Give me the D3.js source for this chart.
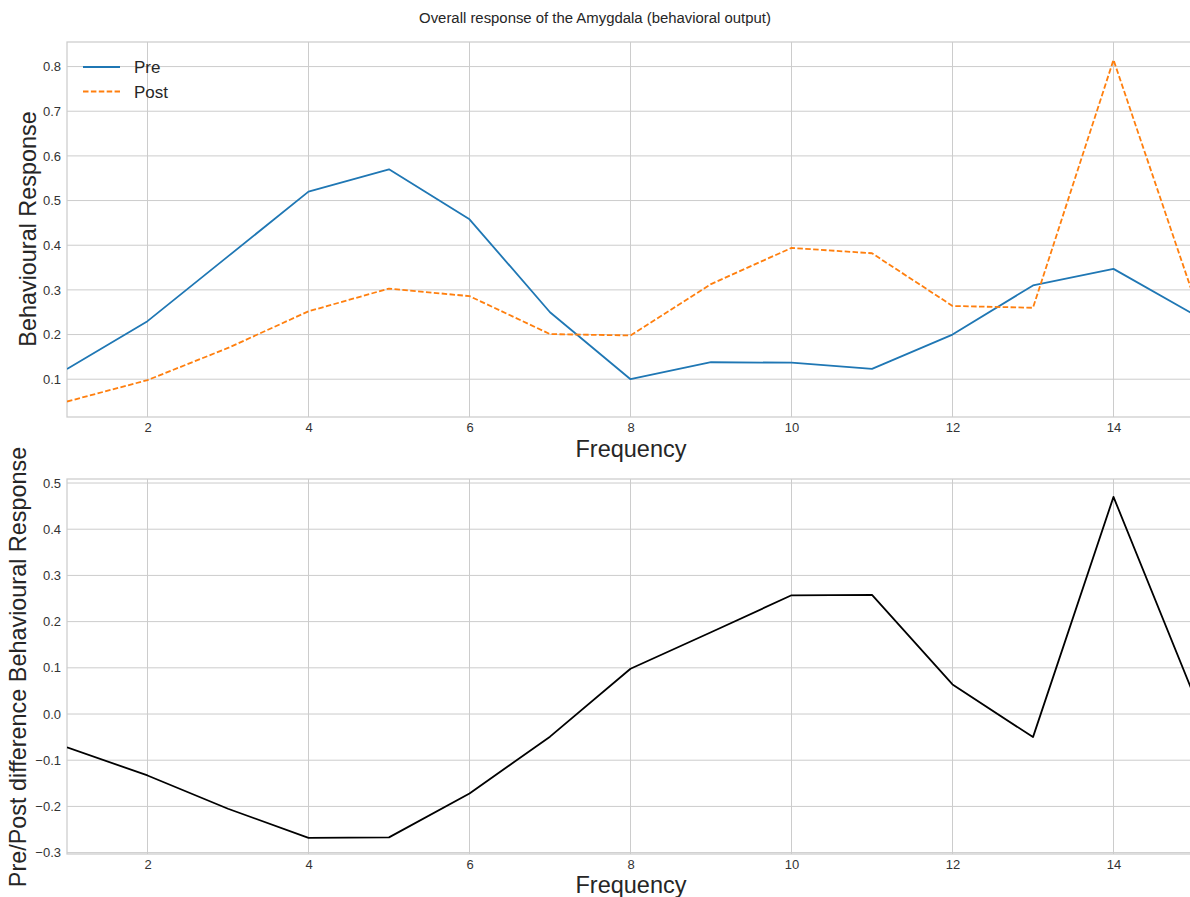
<!DOCTYPE html>
<html><head><meta charset="utf-8">
<script src="https://cdn.jsdelivr.net/npm/d3@7"></script>
<style>body{margin:0;background:#fff}svg{display:block}</style>
</head><body>
<svg id="c" width="1190" height="897"></svg>
<script>
const frequency = [1,2,3,4,5,6,7,8,9,10,11,12,13,14,15];
const preValues = [0.123,0.230,0.375,0.520,0.570,0.458,0.250,0.100,0.138,0.137,0.123,0.200,0.310,0.347,0.245];
const postValues = [0.050,0.098,0.170,0.252,0.303,0.286,0.201,0.198,0.313,0.394,0.382,0.264,0.260,0.815,0.283];
const diffValues = [-0.072,-0.133,-0.205,-0.268,-0.267,-0.172,-0.049,0.098,0.177,0.257,0.258,0.064,-0.050,0.470,0.040];
const xTicks = [2,4,6,8,10,12,14];
const topYTicks = [0.1,0.2,0.3,0.4,0.5,0.6,0.7,0.8];
const botYTicks = [-0.3,-0.2,-0.1,0.0,0.1,0.2,0.3,0.4,0.5];
const seriesNames = ["Pre","Post"];
const title = "Overall response of the Amygdala (behavioral output)";

const svg = d3.select("#c");
const FONT = "'Liberation Sans', Arial, sans-serif";
const grid = "#cccccc", tickColor = "#333333";

function panel(cfg){
  const x = d3.scaleLinear().domain([1,15]).range([cfg.left, cfg.right]);
  const y = d3.scaleLinear().domain(cfg.ydom).range([cfg.bottom, cfg.top]);
  const g = svg.append("g");
  g.append("g").selectAll("line").data(cfg.yticks).join("line")
    .attr("x1",cfg.left).attr("x2",cfg.right).attr("y1",d=>y(d)).attr("y2",d=>y(d))
    .attr("stroke",grid).attr("stroke-width",1);
  g.append("g").selectAll("line").data(xTicks).join("line")
    .attr("y1",cfg.top).attr("y2",cfg.bottom).attr("x1",d=>x(d)).attr("x2",d=>x(d))
    .attr("stroke",grid).attr("stroke-width",1);
  g.append("rect").attr("x",cfg.left).attr("y",cfg.top)
    .attr("width",cfg.right-cfg.left).attr("height",cfg.bottom-cfg.top)
    .attr("fill","none").attr("stroke",grid).attr("stroke-width",1.25);
  const xa = d3.axisBottom(x).tickValues(xTicks).tickSize(0).tickPadding(6).tickFormat(d3.format("d"));
  const xg = g.append("g").attr("transform",`translate(0,${cfg.bottom})`).call(xa);
  const ya = d3.axisLeft(y).tickValues(cfg.yticks).tickSize(0).tickPadding(6)
    .tickFormat(d=>d3.format(".1f")(d).replace("-","\u2212"));
  const yg = g.append("g").attr("transform",`translate(${cfg.left},0)`).call(ya);
  [xg,yg].forEach(a=>{a.select(".domain").remove();
    a.selectAll("text").attr("font-family",FONT).attr("font-size",13).attr("fill",tickColor);});
  const id = "clip"+cfg.id;
  svg.append("clipPath").attr("id",id).append("rect")
    .attr("x",cfg.left).attr("y",cfg.top).attr("width",cfg.right-cfg.left).attr("height",cfg.bottom-cfg.top);
  const lg = g.append("g").attr("clip-path",`url(#${id})`);
  const line = d3.line().x((d,i)=>x(frequency[i])).y(d=>y(d));
  cfg.series.forEach(s=>{
    lg.append("path").datum(s.values).attr("d",line).attr("fill","none")
      .attr("stroke",s.color).attr("stroke-width",1.8)
      .attr("stroke-dasharray",s.dash||null).attr("stroke-linejoin","round");
  });
  g.append("text").attr("x",631).attr("y",cfg.bottom+cfg.xlabDy)
    .attr("text-anchor","middle").attr("font-family",FONT).attr("font-size",23.5).attr("fill","#262626")
    .text("Frequency");
  g.append("text").attr("transform",`translate(${cfg.ylabX},${cfg.ylabY}) rotate(-90)`)
    .attr("text-anchor","middle").attr("font-family",FONT).attr("font-size",23.4).attr("fill","#262626")
    .text(cfg.ylabel);
  return {x,y,g};
}

svg.append("text").attr("x",595).attr("y",23).attr("text-anchor","middle")
  .attr("font-family",FONT).attr("font-size",14.9).attr("fill","#262626").text(title);

const colors = ["#1f77b4","#ff7f0e"];
panel({id:1,left:67,right:1194,top:42,bottom:417,ydom:[0.0154,0.855],yticks:topYTicks,
  ylabX:36,ylabY:229,xlabDy:40,ylabel:"Behavioural Response",
  series:[{values:preValues,color:colors[0]},{values:postValues,color:colors[1],dash:"5.5,2.4"}]});
panel({id:2,left:67,right:1194,top:479,bottom:854,ydom:[-0.303,0.5087],yticks:botYTicks,
  ylabX:26,ylabY:667,xlabDy:39,ylabel:"Pre/Post difference Behavioural Response",
  series:[{values:diffValues,color:"#000000"}]});

const leg = svg.append("g");
seriesNames.forEach((n,i)=>{
  const yy = 67 + i*24.5;
  leg.append("line").attr("x1",83).attr("x2",120).attr("y1",yy).attr("y2",yy)
    .attr("stroke",colors[i]).attr("stroke-width",1.8).attr("stroke-dasharray",i===1?"5.5,2.4":null);
  leg.append("text").attr("x",134).attr("y",yy+6).attr("font-family",FONT).attr("font-size",17)
    .attr("fill","#262626").text(n);
});
</script>
</body></html>
